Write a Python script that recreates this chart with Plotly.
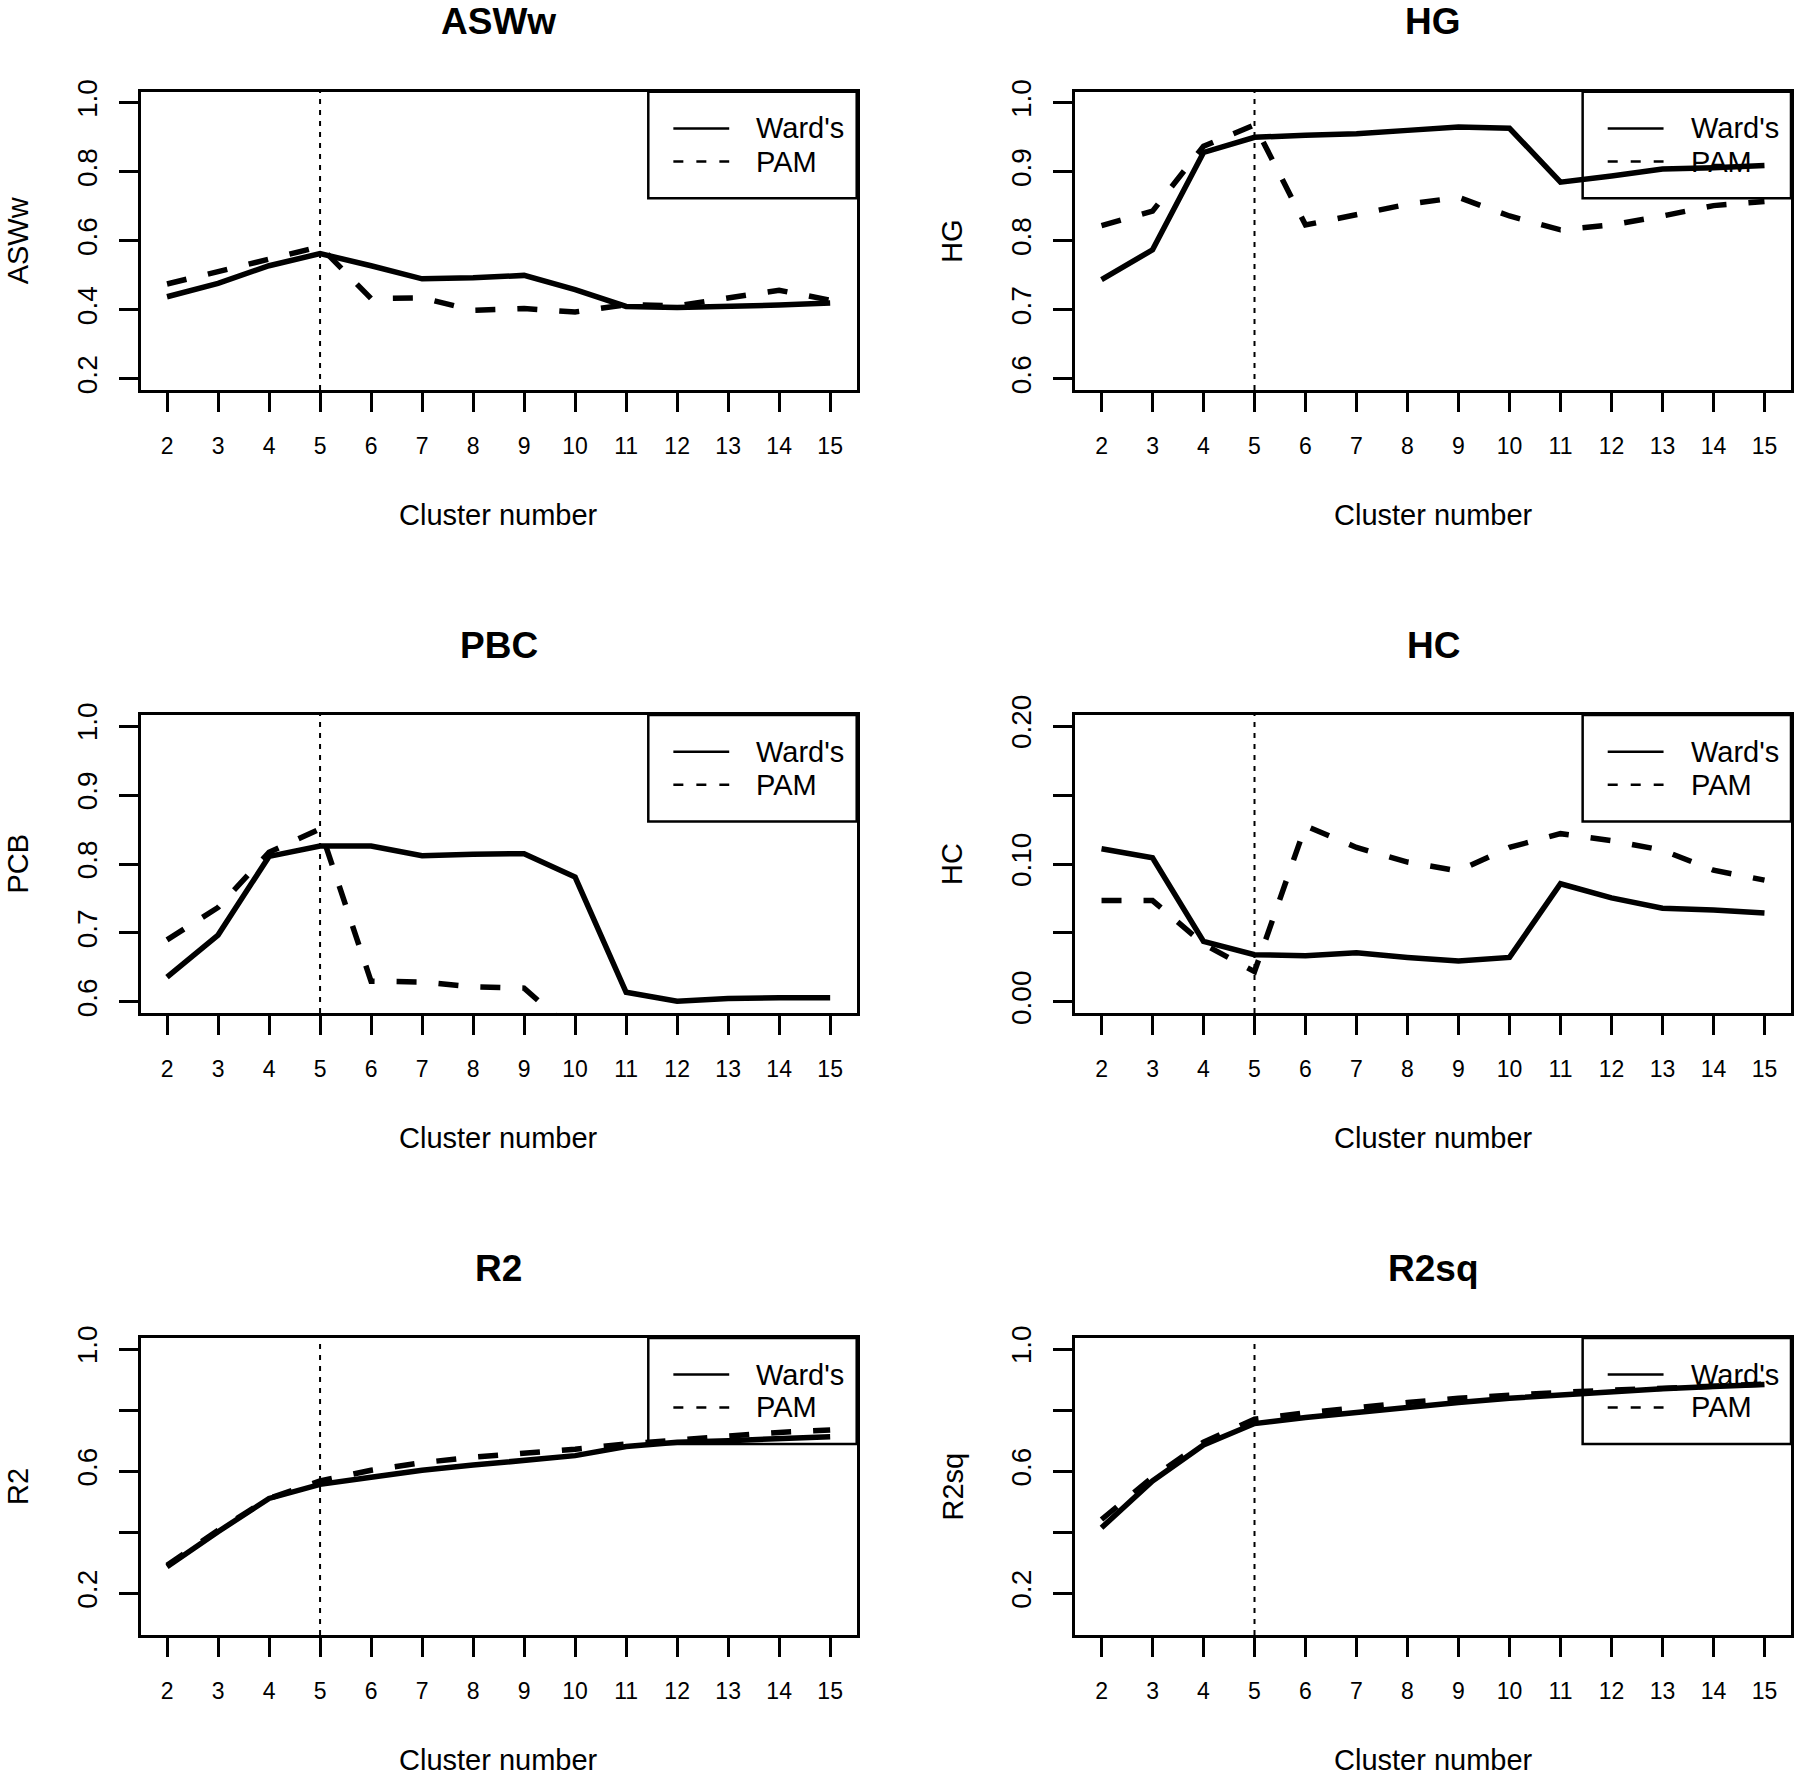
import plotly.graph_objects as go

# ---------------- data ----------------
clusters = [2, 3, 4, 5, 6, 7, 8, 9, 10, 11, 12, 13, 14, 15]
chosen_k = 5

asww_ward = [0.438, 0.477, 0.528, 0.563, 0.528, 0.490, 0.493, 0.500, 0.459, 0.410, 0.407, 0.410, 0.414, 0.420]
asww_pam = [0.475, 0.510, 0.547, 0.583, 0.433, 0.435, 0.399, 0.404, 0.394, 0.415, 0.412, 0.435, 0.457, 0.428]

hg_ward = [0.744, 0.787, 0.928, 0.950, 0.953, 0.955, 0.960, 0.965, 0.963, 0.885, 0.894, 0.904, 0.906, 0.909]
hg_pam = [0.822, 0.843, 0.937, 0.968, 0.823, 0.838, 0.853, 0.863, 0.836, 0.816, 0.823, 0.836, 0.851, 0.857]

pbc_ward = [0.636, 0.697, 0.811, 0.826, 0.826, 0.812, 0.814, 0.815, 0.781, 0.614, 0.601, 0.605, 0.606, 0.606]
pbc_pam = [0.690, 0.737, 0.817, 0.851, 0.630, 0.629, 0.622, 0.620, 0.555, 0.545, 0.542, 0.538, 0.535, 0.532]

hc_ward = [0.111, 0.1045, 0.0439, 0.0343, 0.0335, 0.0356, 0.0323, 0.0297, 0.0323, 0.0857, 0.0754, 0.0679, 0.0666, 0.0645]
hc_pam = [0.0735, 0.0735, 0.042, 0.022, 0.1277, 0.112, 0.1014, 0.095, 0.112, 0.122, 0.117, 0.110, 0.0955, 0.0883]

r2_ward = [0.287, 0.402, 0.511, 0.557, 0.580, 0.603, 0.620, 0.634, 0.651, 0.681, 0.695, 0.700, 0.707, 0.713]
r2_pam = [0.292, 0.407, 0.511, 0.568, 0.603, 0.628, 0.646, 0.658, 0.672, 0.689, 0.700, 0.715, 0.727, 0.735]

r2sq_ward = [0.415, 0.568, 0.686, 0.756, 0.776, 0.793, 0.810, 0.825, 0.839, 0.850, 0.862, 0.870, 0.877, 0.884]
r2sq_pam = [0.442, 0.580, 0.695, 0.770, 0.791, 0.810, 0.825, 0.839, 0.850, 0.858, 0.865, 0.872, 0.879, 0.885]

panel_titles = ["ASWw", "HG", "PBC", "HC", "R2", "R2sq"]
y_titles = ["ASWw", "HG", "PCB", "HC", "R2", "R2sq"]
ward_series = [asww_ward, hg_ward, pbc_ward, hc_ward, r2_ward, r2sq_ward]
pam_series = [asww_pam, hg_pam, pbc_pam, hc_pam, r2_pam, r2sq_pam]

y_tickvals = [
    [0.2, 0.4, 0.6, 0.8, 1.0],
    [0.6, 0.7, 0.8, 0.9, 1.0],
    [0.6, 0.7, 0.8, 0.9, 1.0],
    [0.0, 0.05, 0.10, 0.15, 0.20],
    [0.2, 0.4, 0.6, 0.8, 1.0],
    [0.2, 0.4, 0.6, 0.8, 1.0],
]
y_ticktext = [
    ["0.2", "0.4", "0.6", "0.8", "1.0"],
    ["0.6", "0.7", "0.8", "0.9", "1.0"],
    ["0.6", "0.7", "0.8", "0.9", "1.0"],
    ["0.00", "", "0.10", "", "0.20"],
    ["0.2", "", "0.6", "", "1.0"],
    ["0.2", "", "0.6", "", "1.0"],
]
y_limits = [(0.2, 1.0), (0.6, 1.0), (0.6, 1.0), (0.0, 0.2), (0.1, 1.0), (0.1, 1.0)]
legend_names = ["Ward's", "PAM"]
x_axis_title = "Cluster number"

# ---------------- layout geometry (pixels) ----------------
W, H = 1800, 1776
col_x = [(140.5, 856.7), (1075.0, 1791.0)]
row_y = [(91.7, 390.0), (715.0, 1013.0), (1338.0, 1635.0)]
FONT = "Liberation Sans, Arial, Helvetica, sans-serif"


def fx(p):
    return p / W


def fy(p):
    return 1 - p / H


def ext(lo, hi):
    d = (hi - lo) * 0.04
    return [lo - d, hi + d]


fig = go.Figure()
layout = dict(
    width=W, height=H,
    margin=dict(l=0, r=0, t=0, b=0, pad=0, autoexpand=False),
    paper_bgcolor="white", plot_bgcolor="white",
    showlegend=False,
    font=dict(family=FONT, color="black"),
)
shapes = []
annotations = []

for i in range(6):
    r, c = i // 2, i % 2
    n = "" if i == 0 else str(i + 1)
    xa, ya = "x" + n, "y" + n
    x0p, x1p = col_x[c]
    t0p, b0p = row_y[r]

    fig.add_trace(go.Scatter(
        x=clusters, y=ward_series[i], mode="lines", name=legend_names[0],
        line=dict(color="black", width=5.5), xaxis=xa, yaxis=ya))
    fig.add_trace(go.Scatter(
        x=clusters, y=pam_series[i], mode="lines", name=legend_names[1],
        line=dict(color="black", width=5.5, dash="20px,22px"), xaxis=xa, yaxis=ya))

    layout["xaxis" + n] = dict(
        domain=[fx(x0p), fx(x1p)], anchor=ya, automargin=False,
        range=ext(clusters[0], clusters[-1]),
        tickvals=clusters, ticktext=[str(v) for v in clusters],
        ticks="outside", ticklen=19, tickwidth=2.5, tickcolor="black",
        tickfont=dict(size=23, family=FONT, color="black"),
        ticklabelstandoff=15,
        showline=True, linecolor="black", linewidth=2.5, mirror=True,
        showgrid=False, zeroline=False, fixedrange=True,
    )
    layout["yaxis" + n] = dict(
        domain=[fy(b0p), fy(t0p)], anchor=xa, automargin=False,
        range=ext(*y_limits[i]),
        tickvals=y_tickvals[i], ticktext=y_ticktext[i],
        tickangle=-90,
        ticks="outside", ticklen=19, tickwidth=2.5, tickcolor="black",
        tickfont=dict(size=28, family=FONT, color="black"),
        ticklabelstandoff=11,
        showline=True, linecolor="black", linewidth=2.5, mirror=True,
        showgrid=False, zeroline=False, fixedrange=True,
    )

    # vertical reference line at the chosen cluster number
    shapes.append(dict(type="line", xref=xa, yref=ya + " domain",
                       x0=chosen_k, x1=chosen_k, y0=0, y1=1,
                       line=dict(color="black", width=2, dash="5px,6px")))

    # legend box (transparent, top right)
    shapes.append(dict(type="rect", xref=xa + " domain", yref=ya + " domain",
                       x0=0.709, x1=1.0, y0=0.643, y1=1.0,
                       line=dict(color="black", width=2.5), fillcolor="rgba(0,0,0,0)"))
    for k, (yy, dash) in enumerate([(0.877, "solid"), (0.766, "10px,13px")]):
        shapes.append(dict(type="line", xref=xa + " domain", yref=ya + " domain",
                           x0=0.744, x1=0.822, y0=yy, y1=yy,
                           line=dict(color="black", width=2.5, dash=dash)))
        annotations.append(dict(xref=xa + " domain", yref=ya + " domain",
                                x=0.857, y=yy, xanchor="left", yanchor="middle",
                                text=legend_names[k], showarrow=False,
                                font=dict(size=29, family=FONT, color="black")))

    cx = (x0p + x1p) / 2
    # panel title
    annotations.append(dict(xref="paper", yref="paper", x=fx(cx), y=fy(t0p - 70),
                            xanchor="center", yanchor="middle", text="<b>%s</b>" % panel_titles[i],
                            showarrow=False, font=dict(size=37, family=FONT, color="black")))
    # x-axis title
    annotations.append(dict(xref="paper", yref="paper", x=fx(cx), y=fy(b0p + 125),
                            xanchor="center", yanchor="middle", text=x_axis_title,
                            showarrow=False, font=dict(size=29, family=FONT, color="black")))
    # y-axis title
    annotations.append(dict(xref="paper", yref="paper", x=fx(x0p - 123), y=fy((t0p + b0p) / 2),
                            xanchor="center", yanchor="middle", text=y_titles[i], textangle=-90,
                            showarrow=False, font=dict(size=29, family=FONT, color="black")))

layout["shapes"] = shapes
layout["annotations"] = annotations
fig.update_layout(**layout)
fig.write_html("out.html")
